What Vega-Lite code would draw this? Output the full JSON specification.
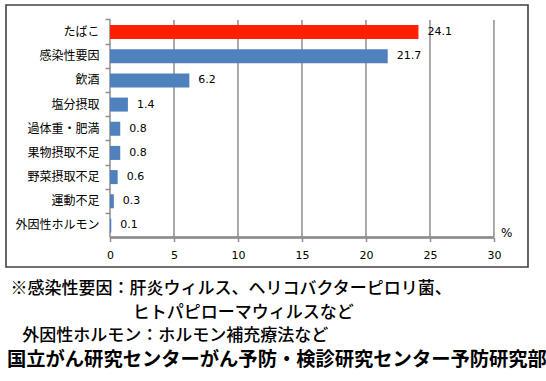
{
  "$schema": "https://vega.github.io/schema/vega-lite/v6.json",
  "width": 522,
  "height": 262,
  "padding": {"left": 6, "top": 5, "right": 5, "bottom": 5},
  "background": "white",
  "config": {
    "view": {"stroke": "#404040", "strokeWidth": 1.6},
    "font": "Noto Sans CJK JP"
  },
  "title": {
    "text": [
      "\u200B\u2009※感染性要因：肝炎ウィルス、ヘリコバクターピロリ菌、",
      "\u200B\u3000\u3000\u3000\u3000\u3000\u3000\u3000\u2009\u2009ヒトパピローマウィルスなど",
      "\u200B\u2002\u2009\u2009外因性ホルモン：ホルモン補充療法など"
    ],
    "subtitle": "国立がん研究センターがん予防・検診研究センター予防研究部",
    "orient": "bottom",
    "anchor": "start",
    "frame": "group",
    "dx": 1,
    "offset": 14,
    "font": "Noto Sans CJK JP",
    "fontSize": 17,
    "fontWeight": 500,
    "lineHeight": 23.5,
    "color": "#000000",
    "subtitleFont": "Noto Sans CJK JP",
    "subtitleFontSize": 19.3,
    "subtitleFontWeight": "bold",
    "subtitleColor": "#000000",
    "subtitlePadding": 6
  },
  "datasets": {
    "risk": [
      {"cat": "たばこ", "value": 24.1},
      {"cat": "感染性要因", "value": 21.7},
      {"cat": "飲酒", "value": 6.2},
      {"cat": "塩分摂取", "value": 1.4},
      {"cat": "過体重・肥満", "value": 0.8},
      {"cat": "果物摂取不足", "value": 0.8},
      {"cat": "野菜摂取不足", "value": 0.6},
      {"cat": "運動不足", "value": 0.3},
      {"cat": "外因性ホルモン", "value": 0.1}
    ],
    "ticks": [
      {"v": 0}, {"v": 5}, {"v": 10}, {"v": 15}, {"v": 20}, {"v": 25}, {"v": 30}
    ]
  },
  "layer": [
    {
      "data": {"name": "ticks"},
      "mark": {"type": "rule", "color": "#8e8e8e", "strokeWidth": 1.5},
      "encoding": {
        "x": {"field": "v", "type": "quantitative", "title": null},
        "y": {"datum": "たばこ", "type": "nominal", "bandPosition": 0},
        "y2": {"datum": "外因性ホルモン", "bandPosition": 1}
      }
    },
    {
      "data": {"name": "risk"},
      "mark": {"type": "bar", "height": {"band": 0.58}},
      "encoding": {
        "y": {
          "field": "cat",
          "type": "nominal",
          "sort": null,
          "title": null,
          "scale": {
            "type": "band",
            "domain": ["たばこ", "感染性要因", "飲酒", "塩分摂取", "過体重・肥満", "果物摂取不足", "野菜摂取不足", "運動不足", "外因性ホルモン"],
            "paddingInner": 0,
            "paddingOuter": 0.92,
            "align": 0.337
          },
          "axis": {
            "bandPosition": 0,
            "labelOffset": 0,
            "domain": false,
            "grid": false,
            "offset": -104,
            "tickSize": 5,
            "tickColor": "#8e8e8e",
            "tickWidth": 1.5,
            "labelFont": "Noto Sans CJK JP",
            "labelFontSize": 12,
            "labelColor": "#000000",
            "labelPadding": 6,
            "title": null
          }
        },
        "x": {
          "field": "value",
          "type": "quantitative",
          "title": null,
          "scale": {"domain": [-8.125, 32.66], "nice": false, "zero": false},
          "axis": {
            "values": [0, 5, 10, 15, 20, 25, 30],
            "domain": false,
            "grid": false,
            "offset": -29.5,
            "tickSize": 4,
            "tickColor": "#8e8e8e",
            "tickWidth": 1.5,
            "labelFont": "DejaVu Sans",
            "labelFontSize": 11,
            "labelColor": "#000000",
            "labelPadding": 8,
            "title": null
          }
        },
        "x2": {"datum": 0},
        "color": {
          "condition": {"test": "datum.cat === 'たばこ'", "value": "#FF2000"},
          "value": "#4F81BD"
        }
      }
    },
    {
      "data": {"name": "risk"},
      "mark": {"type": "text", "align": "left", "baseline": "middle", "dx": 9, "font": "DejaVu Sans", "fontSize": 11, "color": "#000000"},
      "encoding": {
        "y": {"field": "cat", "type": "nominal", "sort": null, "title": null},
        "x": {"field": "value", "type": "quantitative", "title": null},
        "text": {"field": "value", "type": "quantitative", "format": ".1f"}
      }
    },
    {
      "data": {"name": "ticks"},
      "mark": {"type": "rule", "color": "#8e8e8e", "strokeWidth": 1.5},
      "encoding": {
        "x": {"datum": 0},
        "x2": {"datum": 30},
        "y": {"datum": "外因性ホルモン", "type": "nominal", "bandPosition": 1}
      }
    },
    {
      "data": {"values": [{"unit": "%"}]},
      "mark": {"type": "text", "align": "center", "baseline": "middle", "dy": -5, "font": "DejaVu Sans", "fontSize": 12, "color": "#000000"},
      "encoding": {
        "x": {"datum": 31},
        "y": {"datum": "外因性ホルモン", "type": "nominal", "bandPosition": 1},
        "text": {"field": "unit"}
      }
    }
  ]
}
